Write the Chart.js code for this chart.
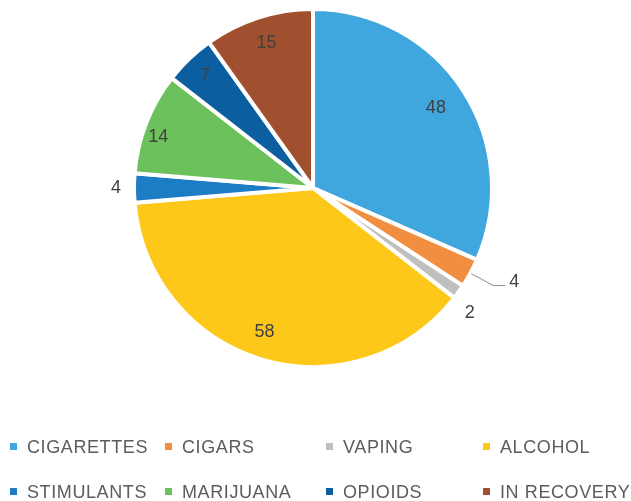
<!DOCTYPE html>
<html>
<head>
<meta charset="utf-8">
<script src="https://cdn.jsdelivr.net/npm/chart.js@4"></script>
<style>
  body { margin: 0; background: #fff; width: 631px; height: 501px; overflow: hidden; position: relative; }
  #wrap { position: absolute; left: 0; top: 0; width: 631px; height: 410px; }
  #leyenda { position: absolute; left: 0; top: 0; width: 631px; height: 501px; pointer-events: none;
    font-family: "Liberation Sans", Arial, sans-serif; font-size: 18px; color: #5c5c5c; letter-spacing: 0.6px; }
  .item { position: absolute; white-space: nowrap; line-height: 20px; }
  .caja { display: inline-block; width: 7px; height: 7px; margin-right: 10px; vertical-align: middle; position: relative; top: -2px; }
</style>
</head>
<body>
<div id="wrap"><canvas id="grafico"></canvas></div>
<div id="leyenda"></div>
<script>
const categorias = ['CIGARETTES', 'CIGARS', 'VAPING', 'ALCOHOL', 'STIMULANTS', 'MARIJUANA', 'OPIOIDS', 'IN RECOVERY'];
const valores = [48, 4, 2, 58, 4, 14, 7, 15];
const colores = ['#3FA7DD', '#F28E3F', '#BFBFBF', '#FDC81A', '#1C7CC4', '#6CC15D', '#0B5FA0', '#A0502E'];

// donde va cada etiqueta: dentro, fuera o con linea guia
const ubicacion = ['in', 'guia', 'out', 'in', 'out', 'in', 'in', 'in'];
const distancia = [0.82, 1.0, 1.12, 0.85, 1.1, 0.91, 0.87, 0.85];
const giro = [0, 0, 3, 2, 0, -3, 0, 0]; // grados

const etiquetas = {
  id: 'etiquetas',
  afterDatasetsDraw(chart) {
    const ctx = chart.ctx;
    const arcos = chart.getDatasetMeta(0).data;
    ctx.save();
    ctx.font = '18px "Liberation Sans", Arial, sans-serif';
    ctx.fillStyle = '#404040';
    ctx.textAlign = 'center';
    ctx.textBaseline = 'middle';
    arcos.forEach((arco, i) => {
      const { x, y, startAngle, endAngle, outerRadius } = arco.getProps(['x', 'y', 'startAngle', 'endAngle', 'outerRadius'], true);
      const medio = (startAngle + endAngle) / 2 + giro[i] * Math.PI / 180;
      if (ubicacion[i] === 'guia') {
        const x1 = x + Math.cos(medio) * (outerRadius + 1);
        const y1 = y + Math.sin(medio) * (outerRadius + 1);
        const x2 = x + Math.cos(medio) * (outerRadius + 26);
        const y2 = y + Math.sin(medio) * (outerRadius + 26);
        ctx.strokeStyle = '#8c8c8c';
        ctx.lineWidth = 1;
        ctx.beginPath();
        ctx.moveTo(x1, y1);
        ctx.lineTo(x2, y2);
        ctx.lineTo(x2 + 12, y2);
        ctx.stroke();
        ctx.textAlign = 'left';
        ctx.fillText(String(valores[i]), x2 + 16, y2 - 4);
        ctx.textAlign = 'center';
      } else {
        const d = outerRadius * distancia[i];
        ctx.fillText(String(valores[i]), x + Math.cos(medio) * d, y + Math.sin(medio) * d);
      }
    });
    ctx.restore();
  }
};

new Chart(document.getElementById('grafico').getContext('2d'), {
  type: 'pie',
  data: {
    labels: categorias,
    datasets: [{
      data: valores,
      backgroundColor: colores,
      borderColor: '#ffffff',
      borderWidth: 4
    }]
  },
  options: {
    responsive: true,
    maintainAspectRatio: false,
    animation: false,
    layout: { padding: { top: 7, bottom: 41, left: 0, right: 5 } },
    plugins: {
      legend: { display: false },
      tooltip: { enabled: false }
    }
  },
  plugins: [etiquetas]
});

// leyenda en 4 columnas y 2 filas
const leyenda = document.getElementById('leyenda');
const columnas = [10, 165, 326, 483];
const filas = [447, 492];
categorias.forEach((nombre, i) => {
  const div = document.createElement('div');
  div.className = 'item';
  div.style.left = columnas[i % 4] + 'px';
  div.style.top = (filas[Math.floor(i / 4)] - 10) + 'px';
  const caja = document.createElement('span');
  caja.className = 'caja';
  caja.style.background = colores[i];
  div.appendChild(caja);
  div.appendChild(document.createTextNode(nombre));
  leyenda.appendChild(div);
});
</script>
</body>
</html>
